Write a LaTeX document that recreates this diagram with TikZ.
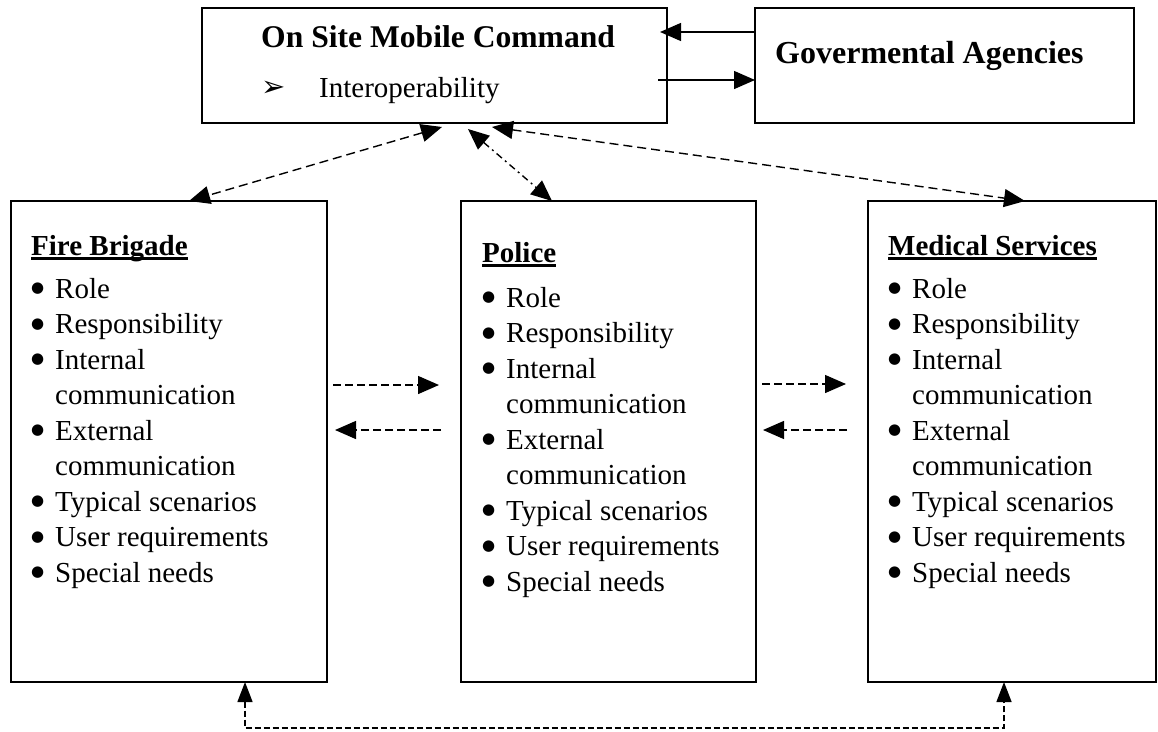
\documentclass[tikz,border=0pt]{standalone}
\usepackage{fontspec}
\setmainfont{Liberation Serif}
\newfontfamily\dejavu{DejaVu Sans}
\usetikzlibrary{arrows.meta}
% underlined heading with a fixed rule offset
\newcommand\ulword[1]{\setbox0\hbox{#1}\rlap{\rule[-4.5pt]{\wd0}{2.2pt}}\box0}
% list bullet: a solid disc
\newcommand\bigdot{\raisebox{5.5pt}{\dejavu\fontsize{15}{15}\selectfont ●}}
% bullet list of one agency panel: #1 name prefix, #2 x, #3 first baseline
\newcommand\agencylist[3]{%
  \foreach \txt/\bul [count=\k from 0] in {Role/1,Responsibility/1,Internal/1,communication/0,External/1,communication/0,Typical scenarios/1,User requirements/1,Special needs/1}
    \node[body] (#1-\k) at (#2,{#3+35.5*\k}) {\ifnum\bul=1 \makebox[24pt][l]{\bigdot}\else\hspace*{24pt}\fi\txt};%
}
\begin{document}
\begin{tikzpicture}[x=1pt,y=-1pt,
  box/.style={draw, line width=1.4pt, inner sep=0pt, outer sep=0pt},
  body/.style={inner sep=0pt, anchor=base west, font=\fontsize{29}{35}\selectfont},
  head/.style={inner sep=0pt, anchor=base west, font=\fontsize{29}{35}\selectfont\bfseries},
  bighead/.style={inner sep=0pt, anchor=base west, font=\fontsize{32}{38}\selectfont\bfseries},
  tip/.tip={Triangle[length=21pt,width=18pt]},
  solidlink/.style={line width=1.4pt},
  link/.style={line width=1.4pt, dash pattern=on 9pt off 5pt},
  shortlink/.style={line width=1.4pt, dash pattern=on 8pt off 4pt},
  dotlink/.style={line width=1.4pt, dash pattern=on 7pt off 4pt on 2pt off 4pt},
  finelink/.style={line width=1.4pt, dash pattern=on 6pt off 3pt}]
\useasboundingbox (0,0) rectangle (1158,731);

% boxes
\node[box, minimum width=465pt, minimum height=115pt] (osmc) at (434.5,65.5) {};
\node[box, minimum width=379pt, minimum height=115pt] (gov) at (944.5,65.5) {};
\node[box, minimum width=316pt, minimum height=481pt] (fb) at (169,441.5) {};
\node[box, minimum width=295pt, minimum height=481pt] (pol) at (608.5,441.5) {};
\node[box, minimum width=288pt, minimum height=481pt] (med) at (1012,441.5) {};

% command box texts
\node[bighead, font=\fontsize{31.6}{38}\selectfont\bfseries] (osmcT) at (261,47) {On Site Mobile Command};
\node[inner sep=0pt, anchor=base west, font=\fontsize{29}{30}\dejavu] (osmcB) at (261,96) {➢};
\node[body] (osmcI) at (319,97) {Interoperability};
\node[bighead] (govT) at (775,63) {Govermental Agencies};

% agency panels
\node[head] (fbT) at (31,255) {\ulword{Fire Brigade}};
\agencylist{fbL}{31}{298}
\node[head] (polT) at (482,262) {\ulword{Police}};
\agencylist{polL}{482}{307}
\node[head] (medT) at (888,255) {\ulword{Medical Services}};
\agencylist{medL}{888}{298}

% link end points
\coordinate (gIn)  at (gov.west |- 0,32);
\coordinate (oIn)  at (660,32);
\coordinate (oOut) at (658,80);
\coordinate (gOut) at (gov.west |- 0,80);
\coordinate (oL) at (442,127);
\coordinate (oM) at (468,129);
\coordinate (oR) at (492,127);
\coordinate (fbTop)  at (189,201);
\coordinate (polTop) at (552,201);
\coordinate (medTop) at (1025,201);
\coordinate (fp1) at (333,385);  \coordinate (fp2) at (439,385);
\coordinate (pf1) at (441,430);  \coordinate (pf2) at (335,430);
\coordinate (pm1) at (762,384);  \coordinate (pm2) at (846,384);
\coordinate (mp1) at (847,430);  \coordinate (mp2) at (763,430);
\coordinate (fbBot)  at (245,682);
\coordinate (medBot) at (1004,682);
\coordinate (cornL) at (245,728);
\coordinate (cornR) at (1004,728);

% links between command and agencies
\draw[solidlink, -{tip}] (gIn) -- (oIn);
\draw[solidlink, -{tip}] (oOut) -- (gOut);
\draw[link, {tip}-{tip}] (oL) -- (fbTop);
\draw[dotlink, {tip}-{tip}] (oM) -- (polTop);
\draw[link, {tip}-{tip}] (oR) -- (medTop);

% links between agencies
\draw[shortlink, -{tip}] (fp1) -- (fp2);
\draw[shortlink, -{tip}] (pf1) -- (pf2);
\draw[shortlink, -{tip}] (pm1) -- (pm2);
\draw[shortlink, -{tip}] (mp1) -- (mp2);
\draw[finelink, {Triangle[length=20pt,width=15pt]}-{Triangle[length=20pt,width=15pt]}] (fbBot) -- (cornL) -- (cornR) -- (medBot);
\end{tikzpicture}
\end{document}
